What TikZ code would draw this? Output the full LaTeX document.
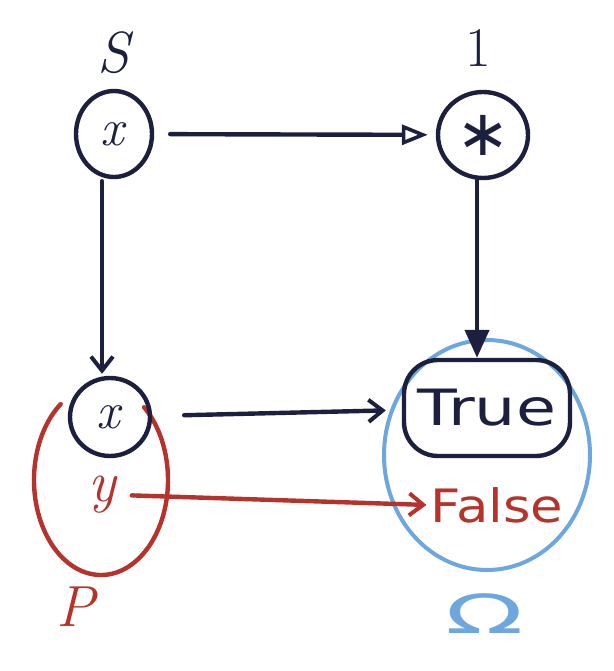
\documentclass[tikz,border=0pt]{standalone}
\usepackage{fontspec}
\newfontfamily\handfont[FakeStretch=1.15]{DejaVu Sans}
\newfontfamily\handwide[FakeStretch=1.3]{DejaVu Sans}
\newfontfamily\omegafont[FakeStretch=1.9]{DejaVu Sans}
\newfontfamily\starfont{DejaVu Sans}
\usetikzlibrary{arrows.meta,shapes.geometric}
\definecolor{ink}{HTML}{1D1F3F}
\definecolor{redink}{HTML}{B5332A}
\definecolor{blueink}{HTML}{6EA7DE}
\begin{document}
\begin{tikzpicture}[x=1pt,y=-1pt,line width=4.4pt,line join=round,line cap=round,
  obj/.style={draw=ink,ellipse,inner sep=0pt,text=ink,font=\itshape\fontsize{52}{56}\selectfont},
  lab/.style={inner sep=0pt,font=\fontsize{56}{58}\selectfont},
  barb/.style={-{Straight Barb[length=14pt,width=22pt,line width=4pt]}},
  opentip/.style={-{Triangle[open,length=26pt,width=20pt,line width=3.6pt]}},
  filltip/.style={-{Triangle[length=28pt,width=24pt]}}]
\useasboundingbox (0,0) rectangle (613,671);
% set Omega
\node[draw=blueink,line width=4pt,ellipse,minimum width=206pt,minimum height=230pt,inner sep=0pt] (omega) at (487,455) {};
\node[inner sep=0pt,text=blueink,font=\omegafont\fontsize{54}{56}\selectfont] (omegalab) at (485,614) {Ω};
% set P
\coordinate (pc) at (101,480);
\draw[redink] (pc) ++(-127:67 and 95) arc[start angle=-127,end angle=-410,x radius=67,y radius=95];
\node[lab,text=redink,font=\itshape\fontsize{58}{60}\selectfont] (plab) at (76,607) {P};
% objects
\node[lab,text=ink,font=\itshape\fontsize{58}{60}\selectfont] (slab) at (113,53) {S};
\node[obj,minimum width=76pt,minimum height=86pt] (s) at (114,134) {x\/};
\node[lab,text=ink] (onelab) at (478,48) {1};
\node[obj,minimum width=90pt,minimum height=86pt,font=\starfont\fontsize{64}{66}\selectfont] (one) at (483,135) {∗};
\node[obj,minimum width=80pt,minimum height=78pt] (x) at (110,417) {x\/};
\node[draw=ink,rectangle,rounded corners=34pt,minimum width=166pt,minimum height=96pt,inner sep=0pt,text=ink,font=\handwide\fontsize{50}{52}\selectfont] (true) at (487,408) {True};
\node[inner sep=0pt,text=redink,font=\itshape\fontsize{58}{60}\selectfont] (y) at (103,495) {y\/};
\node[inner sep=0pt,text=redink,font=\handfont\fontsize{46}{50}\selectfont] (false) at (497,505) {False};
% arrows
\draw[ink,opentip,shorten <=16pt,shorten >=8pt] (s) -- (one);
\draw[ink,barb,shorten <=2pt,shorten >=2pt] (s.south) ++(-12,0) coordinate (sd) (sd) -- (sd |- x.north);
\draw[ink,filltip] (one.south) ++(-6,0) coordinate (od) (od) -- (od |- true.north);
\draw[ink,barb,shorten <=32pt,shorten >=16pt] (x) -- (true);
\draw[redink,barb,shorten <=12pt,shorten >=2pt] (y.east) -- (false.west);
\end{tikzpicture}
\end{document}
